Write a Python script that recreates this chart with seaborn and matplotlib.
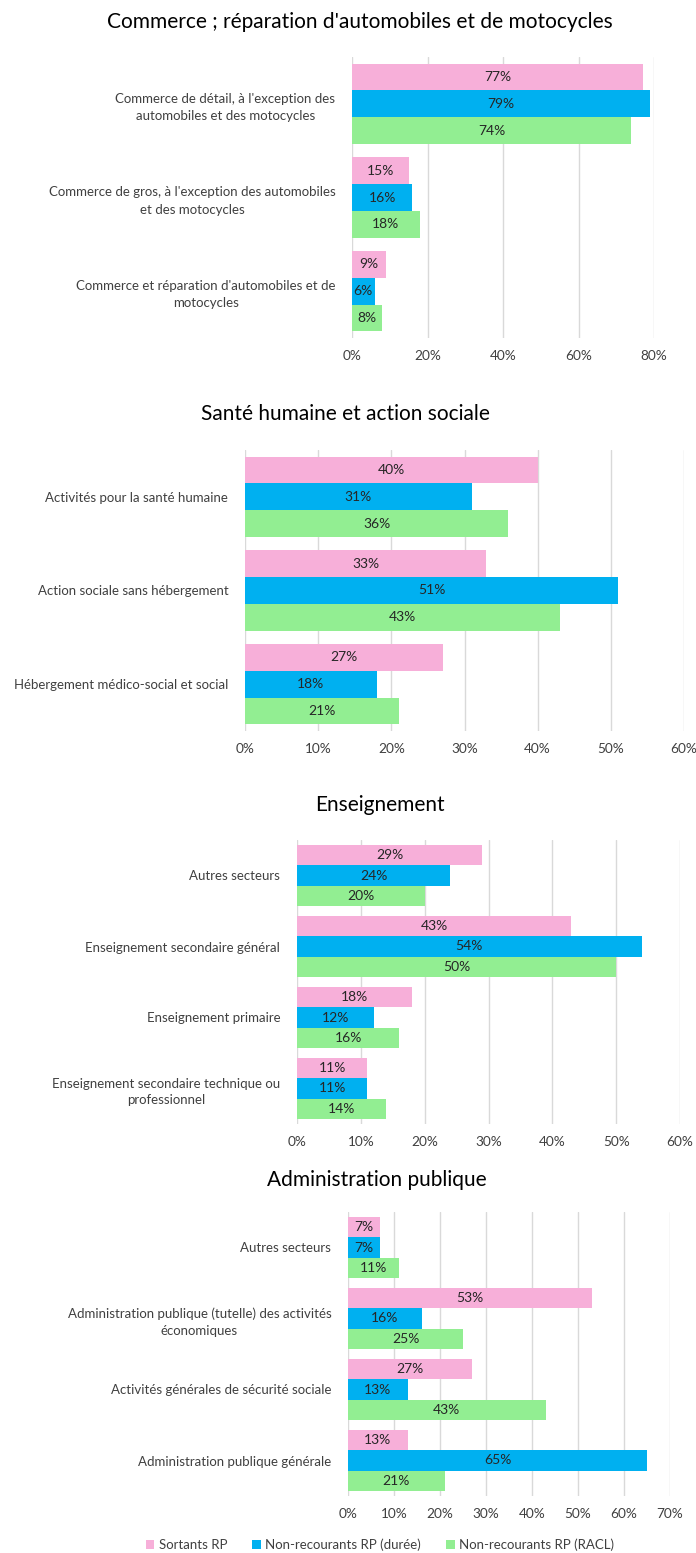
import matplotlib
matplotlib.use("Agg")
import matplotlib.pyplot as plt
from matplotlib.patches import Patch
import seaborn as sns
import pandas as pd

sns.set_theme(style="white")
plt.rcParams["font.family"] = ["Lato", "DejaVu Sans"]

series = ["Sortants RP", "Non-recourants RP (durée)", "Non-recourants RP (RACL)"]
colors = ["#F7AFD9", "#00B0F0", "#92EE92"]

# Commerce
commerce_title = "Commerce ; réparation d'automobiles et de motocycles"
commerce_cats = [
    "Commerce de détail, à l'exception des\nautomobiles et des motocycles",
    "Commerce de gros, à l'exception des automobiles\net des motocycles",
    "Commerce et réparation d'automobiles et de\nmotocycles",
]
commerce_sortants = [77, 15, 9]
commerce_duree = [79, 16, 6]
commerce_racl = [74, 18, 8]

# Santé
sante_title = "Santé humaine et action sociale"
sante_cats = [
    "Activités pour la santé humaine",
    "Action sociale sans hébergement",
    "Hébergement médico-social et social",
]
sante_sortants = [40, 33, 27]
sante_duree = [31, 51, 18]
sante_racl = [36, 43, 21]

# Enseignement
ens_title = "Enseignement"
ens_cats = [
    "Autres secteurs",
    "Enseignement secondaire général",
    "Enseignement primaire",
    "Enseignement secondaire technique ou\nprofessionnel",
]
ens_sortants = [29, 43, 18, 11]
ens_duree = [24, 54, 12, 11]
ens_racl = [20, 50, 16, 14]

# Administration publique
adm_title = "Administration publique"
adm_cats = [
    "Autres secteurs",
    "Administration publique (tutelle) des activités\néconomiques",
    "Activités générales de sécurité sociale",
    "Administration publique générale",
]
adm_sortants = [7, 53, 27, 13]
adm_duree = [7, 16, 13, 65]
adm_racl = [11, 25, 43, 21]

W, H = 696, 1553
fig = plt.figure(figsize=(W / 100, H / 100), dpi=100)


def make_df(cats, a, b, c):
    rows = []
    for s, vals in zip(series, [a, b, c]):
        for cat, v in zip(cats, vals):
            rows.append({"cat": cat, "serie": s, "val": v})
    return pd.DataFrame(rows)


panels = [
    # title, cats, data, xmax, step, (left, right, top, bottom) px, title (x, y)
    (commerce_title, commerce_cats, (commerce_sortants, commerce_duree, commerce_racl),
     80, 20, (352, 654, 57, 338), (360, 22)),
    (sante_title, sante_cats, (sante_sortants, sante_duree, sante_racl),
     60, 10, (245, 684, 450, 731), (345, 414)),
    (ens_title, ens_cats, (ens_sortants, ens_duree, ens_racl),
     60, 10, (297, 680, 840, 1124), (380, 805)),
    (adm_title, adm_cats, (adm_sortants, adm_duree, adm_racl),
     70, 10, (348, 670, 1212, 1496), (377, 1180)),
]

for title, cats, vals, xmax, step, (l, r, t, b), (tx, ty) in panels:
    ax = fig.add_axes([l / W, 1 - b / H, (r - l) / W, (b - t) / H])
    df = make_df(cats, *vals)
    sns.barplot(data=df, y="cat", x="val", hue="serie", hue_order=series,
                order=cats, palette=colors, orient="h", width=0.86,
                saturation=1, legend=False, linewidth=0, edgecolor="none",
                ax=ax)
    for cont in ax.containers:
        for patch in cont:
            w = patch.get_width()
            y = patch.get_y() + patch.get_height() / 2
            ax.text(w / 2, y, f"{w:.0f}%", ha="center", va="center",
                    fontsize=10, color="#262626")
    ax.set_xlim(0, xmax)
    ax.set_ylim(len(cats) - 0.5, -0.5)
    ticks = list(range(0, xmax + 1, step))
    ax.set_xticks(ticks)
    ax.set_xticklabels([f"{v}%" for v in ticks], fontsize=9.8, color="#404040")
    ax.xaxis.grid(True, color="#D9D9D9", linewidth=1)
    ax.set_axisbelow(True)
    for sp in ax.spines.values():
        sp.set_visible(False)
    ax.tick_params(axis="x", length=0, pad=9)
    ax.tick_params(axis="y", length=0, pad=12)
    for lab in ax.get_yticklabels():
        lab.set_fontsize(9.5)
        lab.set_color("#404040")
        lab.set_multialignment("center")
        lab.set_linespacing(1.5)
    ax.set_xlabel("")
    ax.set_ylabel("")
    fig.text(tx / W, 1 - ty / H, title, ha="center", va="center",
             fontsize=15, color="#000000")

handles = [Patch(facecolor=c, edgecolor="none") for c in colors]
fig.legend(handles, series, loc="center", bbox_to_anchor=(380 / W, 1 - 1545 / H),
           ncol=3, frameon=False, fontsize=9.5, handlelength=0.65, handleheight=0.65,
           handletextpad=0.35, columnspacing=1.9, labelcolor="#404040")

fig.savefig("out.png", dpi=100)
